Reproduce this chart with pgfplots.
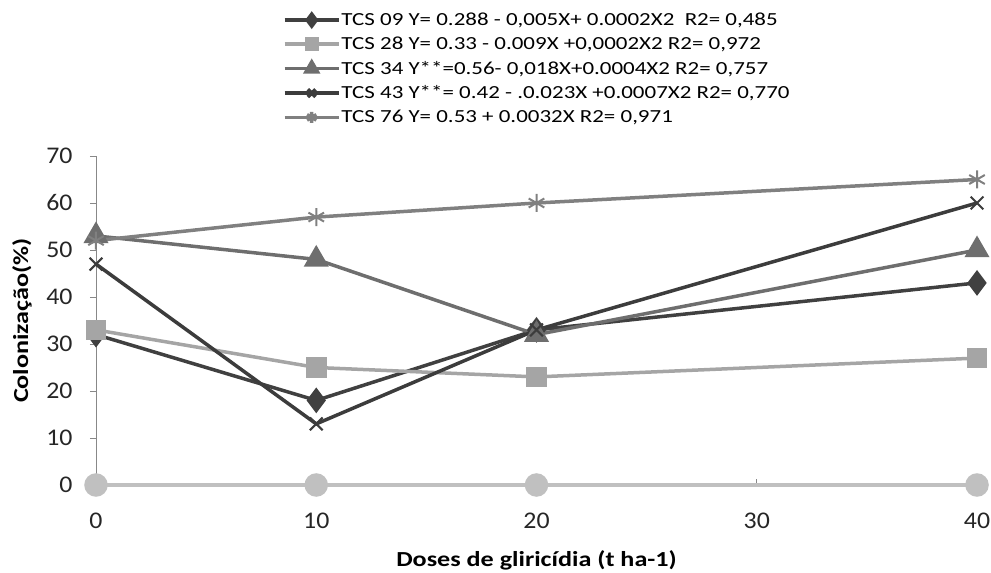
\documentclass[border=0pt]{standalone}
\usepackage{fontspec}
\setmainfont{Carlito}
\newfontfamily\wide[FakeStretch=1.22]{Carlito}
\newfontfamily\widel[FakeStretch=1.245]{Carlito}
\newfontfamily\tickf[FakeStretch=1.08]{Carlito}
\usepackage{pgfplots}
\pgfplotsset{compat=1.18}
\definecolor{cA}{HTML}{404040}
\definecolor{cB}{HTML}{A5A5A5}
\definecolor{cC}{HTML}{6E6E6E}
\definecolor{cD}{HTML}{3C3C3C}
\definecolor{cE}{HTML}{808080}
\definecolor{cF}{HTML}{C0C0C0}
\definecolor{axc}{HTML}{888888}
\begin{document}
\begin{tikzpicture}[x=1bp,y=1bp]
\useasboundingbox (-96,-88) rectangle (895,485);
\begin{axis}[
  at={(0,0)}, anchor=south west,
  scale only axis, width=881bp, height=329bp,
  xmin=0, xmax=40, ymin=0, ymax=70,
  xtick={0,10,20,30,40}, ytick={0,10,...,70},
  axis x line=bottom, axis y line=left,
  axis line style={-, draw=axc, line width=0.8bp},
  x tick style={draw=axc, line width=0.8bp}, y tick style={draw=axc, line width=0.8bp},
  xtick align=inside, ytick align=outside,
  major tick length=6bp,
  /pgf/number format/assume math mode=true,
  ticklabel style={font=\tickf\fontsize{24}{26}\selectfont, text=black!85},
  xticklabel style={yshift=-24bp},
  yticklabel style={xshift=-14bp},
  xlabel={\textbf{Doses de gliricídia (t ha-1)}},
  ylabel={\textbf{Colonização(\%)}},
  xlabel style={at={(axis description cs:0.5,-0.228)}, anchor=center, font=\wide\fontsize{21.5}{24}\selectfont},
  ylabel style={at={(axis description cs:-0.084,0.5)}, anchor=center, font=\wide\fontsize{21.5}{24}\selectfont},
  clip=false,
  every axis plot/.append style={line width=3.5bp},
  legend image code/.code={\draw[#1, mark repeat=2, mark phase=2, mark options={scale=0.6}] plot coordinates {(0bp,0bp) (27bp,0bp) (54bp,0bp)};},
  legend style={at={(axis description cs:0.212,1.438)}, anchor=north west, draw=none, fill=none,
    font=\widel\fontsize{18.5}{20}\selectfont, row sep=8bp, inner sep=0pt,
    nodes={inner sep=1bp}, cells={anchor=west}},
]
\addplot[cA, mark=diamond*, mark size=10bp] coordinates {(0,32) (10,18) (20,33) (40,43)};
\addlegendentry{TCS 09 Y= 0.288 - 0,005X+ 0.0002X2\ \ R2= 0,485}
\addplot[cB, mark=square*, mark size=8.5bp] coordinates {(0,33) (10,25) (20,23) (40,27)};
\addlegendentry{TCS 28 Y= 0.33 - 0.009X +0,0002X2 R2= 0,972}
\addplot[cC, mark=triangle*, mark size=11bp] coordinates {(0,53) (10,48) (20,32) (40,50)};
\addlegendentry{TCS 34 Y**=0.56- 0,018X+0.0004X2 R2= 0,757}
\addplot[cD, mark=x, mark size=9bp, mark options={line width=2bp}] coordinates {(0,47) (10,13) (20,33) (40,60)};
\addlegendentry{TCS 43 Y**= 0.42 - .0.023X +0.0007X2 R2= 0,770}
\addplot[cE, mark=asterisk, mark size=9bp, mark options={line width=2bp}] coordinates {(0,52) (10,57) (20,60) (40,65)};
\addlegendentry{TCS 76 Y= 0.53 + 0.0032X R2= 0,971}
\addplot[cF, mark=*, mark size=10bp, forget plot] coordinates {(0,0) (10,0) (20,0) (40,0)};
\end{axis}
\end{tikzpicture}
\end{document}
